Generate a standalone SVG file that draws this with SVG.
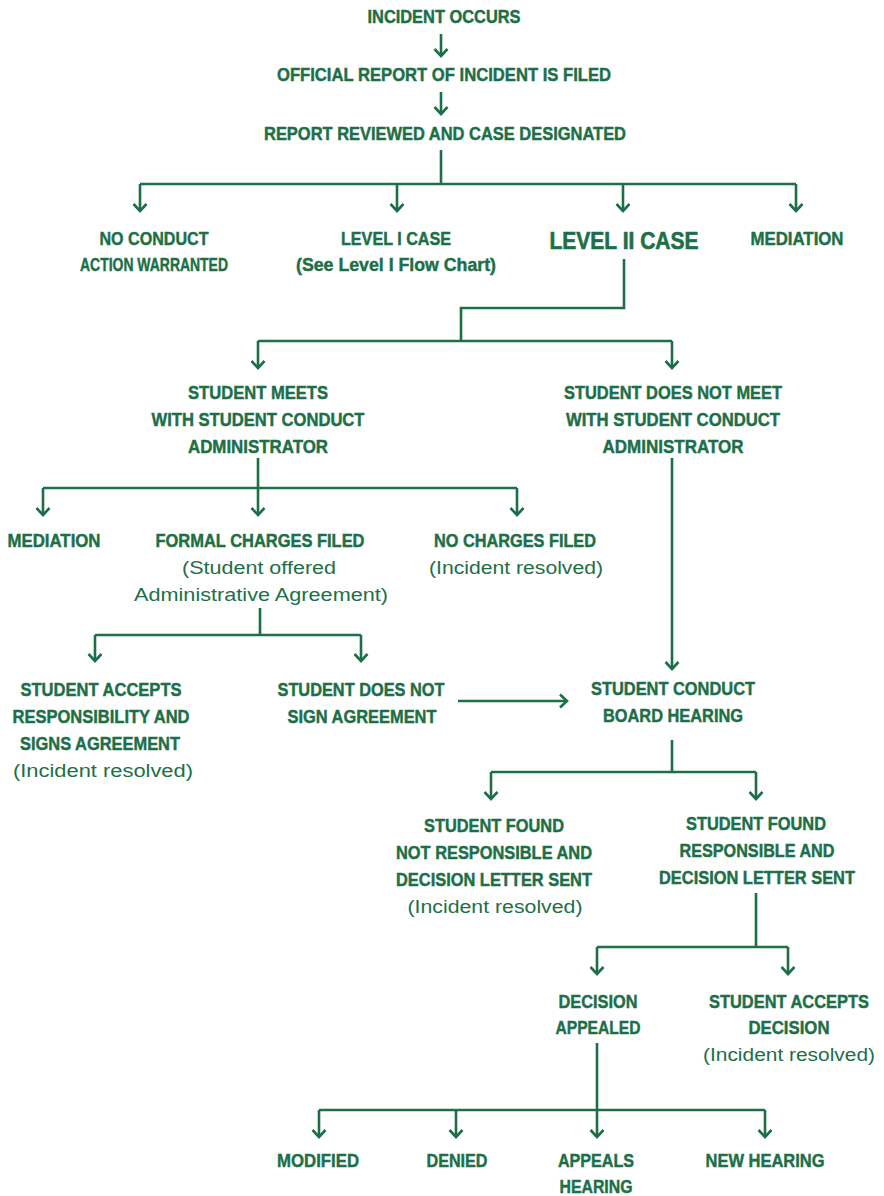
<svg xmlns="http://www.w3.org/2000/svg" width="884" height="1196" viewBox="0 0 884 1196">
<defs>
<style>
.b{font-family:"Liberation Sans",Arial,sans-serif;font-weight:bold;font-size:18.5px;fill:#1d6f48;stroke:#1d6f48;stroke-width:0.45;text-anchor:middle}
.r{font-family:"Liberation Sans",Arial,sans-serif;font-weight:normal;font-size:18px;fill:#1d6f48;text-anchor:middle}
.big{font-size:23px;stroke-width:0.6}
.c{fill:none;stroke:#1d6f48;stroke-width:2.6}
.a{marker-end:url(#ah)}
</style>
<marker id="ah" viewBox="0 0 10 16" refX="8.5" refY="8" markerWidth="10" markerHeight="16" markerUnits="userSpaceOnUse" orient="auto" overflow="visible">
<path d="M1.5,1.5 L8.5,8 L1.5,14.5" fill="none" stroke="#1d6f48" stroke-width="2.6"/>
</marker>
</defs>
<rect width="884" height="1196" fill="#ffffff"/>
<g id="connectors">
<path class="c a" d="M441,34 V56"/>
<path class="c a" d="M441,92 V114"/>
<path class="c" d="M441,150 V184 M140,184 H796"/>
<path class="c a" d="M140,184 V211"/>
<path class="c a" d="M397,184 V211"/>
<path class="c a" d="M623,184 V211"/>
<path class="c a" d="M796,184 V211"/>
<path class="c" d="M624,259 V308 H461 V341 M258,341 H672"/>
<path class="c a" d="M258,341 V368"/>
<path class="c a" d="M672,341 V368"/>
<path class="c" d="M258,458 V488 M43,488 H517"/>
<path class="c a" d="M43,488 V515"/>
<path class="c a" d="M258,488 V515"/>
<path class="c a" d="M517,488 V515"/>
<path class="c a" d="M672,458 V669"/>
<path class="c" d="M260,608 V635 M95,635 H361"/>
<path class="c a" d="M95,635 V661"/>
<path class="c a" d="M361,635 V661"/>
<path class="c a" d="M458,701 H567"/>
<path class="c" d="M672,740 V772 M491,772 H756"/>
<path class="c a" d="M491,772 V799"/>
<path class="c a" d="M756,772 V799"/>
<path class="c" d="M756,893 V947 M597,947 H788"/>
<path class="c a" d="M597,947 V974"/>
<path class="c a" d="M788,947 V974"/>
<path class="c" d="M597,1043 V1110 M319,1110 H765"/>
<path class="c a" d="M319,1110 V1137"/>
<path class="c a" d="M456,1110 V1137"/>
<path class="c a" d="M597,1110 V1137"/>
<path class="c a" d="M765,1110 V1137"/>
</g>
<g id="incident-occurs"><text class="b" x="444" y="22.5" textLength="153" lengthAdjust="spacingAndGlyphs">INCIDENT OCCURS</text></g>
<g id="report-filed"><text class="b" x="444" y="80.5" textLength="334" lengthAdjust="spacingAndGlyphs">OFFICIAL REPORT OF INCIDENT IS FILED</text></g>
<g id="report-reviewed"><text class="b" x="445" y="139.5" textLength="362" lengthAdjust="spacingAndGlyphs">REPORT REVIEWED AND CASE DESIGNATED</text></g>
<g id="no-conduct">
<text class="b" x="154" y="244.5" textLength="109" lengthAdjust="spacingAndGlyphs">NO CONDUCT</text>
<text class="b" x="154" y="270.5" textLength="148" lengthAdjust="spacingAndGlyphs">ACTION WARRANTED</text>
</g>
<g id="level1">
<text class="b" x="396" y="244.5" textLength="110" lengthAdjust="spacingAndGlyphs">LEVEL I CASE</text>
<text class="b" x="396" y="270.5" textLength="200" lengthAdjust="spacingAndGlyphs">(See Level I Flow Chart)</text>
</g>
<g id="level2"><text class="b big" x="624" y="248.5" textLength="149" lengthAdjust="spacingAndGlyphs">LEVEL II CASE</text></g>
<g id="mediation-top"><text class="b" x="797" y="244.5" textLength="93" lengthAdjust="spacingAndGlyphs">MEDIATION</text></g>
<g id="student-meets">
<text class="b" x="258" y="398.5" textLength="140" lengthAdjust="spacingAndGlyphs">STUDENT MEETS</text>
<text class="b" x="258" y="425.5" textLength="213" lengthAdjust="spacingAndGlyphs">WITH STUDENT CONDUCT</text>
<text class="b" x="258" y="452.5" textLength="140" lengthAdjust="spacingAndGlyphs">ADMINISTRATOR</text>
</g>
<g id="student-not-meet">
<text class="b" x="673" y="398.5" textLength="218" lengthAdjust="spacingAndGlyphs">STUDENT DOES NOT MEET</text>
<text class="b" x="673" y="425.5" textLength="214" lengthAdjust="spacingAndGlyphs">WITH STUDENT CONDUCT</text>
<text class="b" x="673" y="452.5" textLength="141" lengthAdjust="spacingAndGlyphs">ADMINISTRATOR</text>
</g>
<g id="mediation-left"><text class="b" x="54" y="546.5" textLength="93" lengthAdjust="spacingAndGlyphs">MEDIATION</text></g>
<g id="formal-charges">
<text class="b" x="260" y="546.5" textLength="209" lengthAdjust="spacingAndGlyphs">FORMAL CHARGES FILED</text>
<text class="r" x="259" y="573.5" textLength="154" lengthAdjust="spacingAndGlyphs">(Student offered</text>
<text class="r" x="261" y="600.5" textLength="254" lengthAdjust="spacingAndGlyphs">Administrative Agreement)</text>
</g>
<g id="no-charges">
<text class="b" x="515" y="546.5" textLength="162" lengthAdjust="spacingAndGlyphs">NO CHARGES FILED</text>
<text class="r" x="516" y="573.5" textLength="174" lengthAdjust="spacingAndGlyphs">(Incident resolved)</text>
</g>
<g id="accepts-responsibility">
<text class="b" x="101" y="695.5" textLength="161" lengthAdjust="spacingAndGlyphs">STUDENT ACCEPTS</text>
<text class="b" x="101" y="722.5" textLength="177" lengthAdjust="spacingAndGlyphs">RESPONSIBILITY AND</text>
<text class="b" x="100" y="749.5" textLength="160" lengthAdjust="spacingAndGlyphs">SIGNS AGREEMENT</text>
<text class="r" x="103" y="776.5" textLength="180" lengthAdjust="spacingAndGlyphs">(Incident resolved)</text>
</g>
<g id="does-not-sign">
<text class="b" x="361" y="695.5" textLength="167" lengthAdjust="spacingAndGlyphs">STUDENT DOES NOT</text>
<text class="b" x="362" y="722.5" textLength="149" lengthAdjust="spacingAndGlyphs">SIGN AGREEMENT</text>
</g>
<g id="board-hearing">
<text class="b" x="673" y="694.5" textLength="164" lengthAdjust="spacingAndGlyphs">STUDENT CONDUCT</text>
<text class="b" x="673" y="721.5" textLength="140" lengthAdjust="spacingAndGlyphs">BOARD HEARING</text>
</g>
<g id="not-responsible">
<text class="b" x="494" y="831.5" textLength="140" lengthAdjust="spacingAndGlyphs">STUDENT FOUND</text>
<text class="b" x="494" y="858.5" textLength="196" lengthAdjust="spacingAndGlyphs">NOT RESPONSIBLE AND</text>
<text class="b" x="494" y="885.5" textLength="196" lengthAdjust="spacingAndGlyphs">DECISION LETTER SENT</text>
<text class="r" x="495" y="912.5" textLength="175" lengthAdjust="spacingAndGlyphs">(Incident resolved)</text>
</g>
<g id="responsible">
<text class="b" x="756" y="829.5" textLength="140" lengthAdjust="spacingAndGlyphs">STUDENT FOUND</text>
<text class="b" x="757" y="856.5" textLength="155" lengthAdjust="spacingAndGlyphs">RESPONSIBLE AND</text>
<text class="b" x="757" y="883.5" textLength="196" lengthAdjust="spacingAndGlyphs">DECISION LETTER SENT</text>
</g>
<g id="decision-appealed">
<text class="b" x="598" y="1007.5" textLength="79" lengthAdjust="spacingAndGlyphs">DECISION</text>
<text class="b" x="598" y="1033.5" textLength="85" lengthAdjust="spacingAndGlyphs">APPEALED</text>
</g>
<g id="accepts-decision">
<text class="b" x="789" y="1007.5" textLength="160" lengthAdjust="spacingAndGlyphs">STUDENT ACCEPTS</text>
<text class="b" x="789" y="1033.5" textLength="81" lengthAdjust="spacingAndGlyphs">DECISION</text>
<text class="r" x="789" y="1060.5" textLength="172" lengthAdjust="spacingAndGlyphs">(Incident resolved)</text>
</g>
<g id="modified"><text class="b" x="318" y="1166.5" textLength="82" lengthAdjust="spacingAndGlyphs">MODIFIED</text></g>
<g id="denied"><text class="b" x="457" y="1166.5" textLength="61" lengthAdjust="spacingAndGlyphs">DENIED</text></g>
<g id="appeals-hearing">
<text class="b" x="596" y="1166.5" textLength="76" lengthAdjust="spacingAndGlyphs">APPEALS</text>
<text class="b" x="596" y="1192.5" textLength="73" lengthAdjust="spacingAndGlyphs">HEARING</text>
</g>
<g id="new-hearing"><text class="b" x="765" y="1166.5" textLength="119" lengthAdjust="spacingAndGlyphs">NEW HEARING</text></g>
</svg>
